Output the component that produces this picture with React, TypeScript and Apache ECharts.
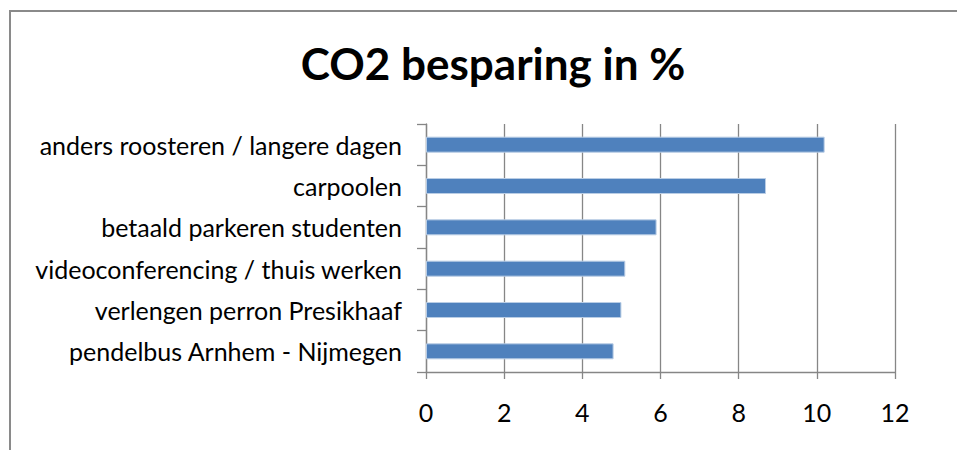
import React, { useEffect, useRef } from "react";
import * as echarts from "echarts";

const categories = [
  "anders roosteren / langere dagen",
  "carpoolen",
  "betaald parkeren studenten",
  "videoconferencing / thuis werken",
  "verlengen perron Presikhaaf",
  "pendelbus Arnhem - Nijmegen",
];
const values = [10.2, 8.7, 5.9, 5.1, 5.0, 4.8];
const titleText = "CO2 besparing in %";
const xMin = 0;
const xMax = 12;
const xStep = 2;

export default function App() {
  const ref = useRef<HTMLDivElement>(null);
  useEffect(() => {
    if (!ref.current) return;
    const chart = echarts.init(ref.current, undefined, { renderer: "svg" });
    const font = "Lato";
    chart.setOption({
      animation: false,
      backgroundColor: "#ffffff",
      title: {
        text: titleText,
        left: 488,
        textAlign: "center",
        top: 36,
        textStyle: { fontFamily: font, fontWeight: "bold", fontSize: 44, color: "#000" },
      },
      graphic: [
        {
          type: "rect",
          shape: { x: 10, y: 11, width: 1000, height: 1000 },
          style: { fill: "none", stroke: "#8a8a8a", lineWidth: 2 },
          silent: true,
        },
      ],
      grid: { left: 426, right: 62, top: 124, bottom: 78, containLabel: false },
      xAxis: {
        type: "value",
        min: xMin,
        max: xMax,
        interval: xStep,
        axisLine: { show: true, lineStyle: { color: "#868686", width: 1.3 } },
        axisTick: { show: true, length: 7, lineStyle: { color: "#868686", width: 1.3 } },
        splitLine: { show: true, lineStyle: { color: "#868686", width: 1.3 } },
        axisLabel: { fontFamily: font, fontSize: 25, color: "#000", margin: 27 },
      },
      yAxis: {
        type: "category",
        data: categories,
        inverse: true,
        axisLine: { show: true, lineStyle: { color: "#868686", width: 1.3 } },
        axisTick: { show: true, length: 9, lineStyle: { color: "#868686", width: 1.3 } },
        axisLabel: { fontFamily: font, fontSize: 25, color: "#000", margin: 24 },
      },
      series: [
        {
          type: "bar",
          data: values,
          barWidth: 16,
          itemStyle: { color: "#4F81BD", borderColor: "#b9cde5", borderWidth: 1 },
        },
      ],
    });
    return () => chart.dispose();
  }, []);
  return <div ref={ref} style={{ width: 957, height: 450, position: "absolute", left: 0, top: 0 }} />;
}
